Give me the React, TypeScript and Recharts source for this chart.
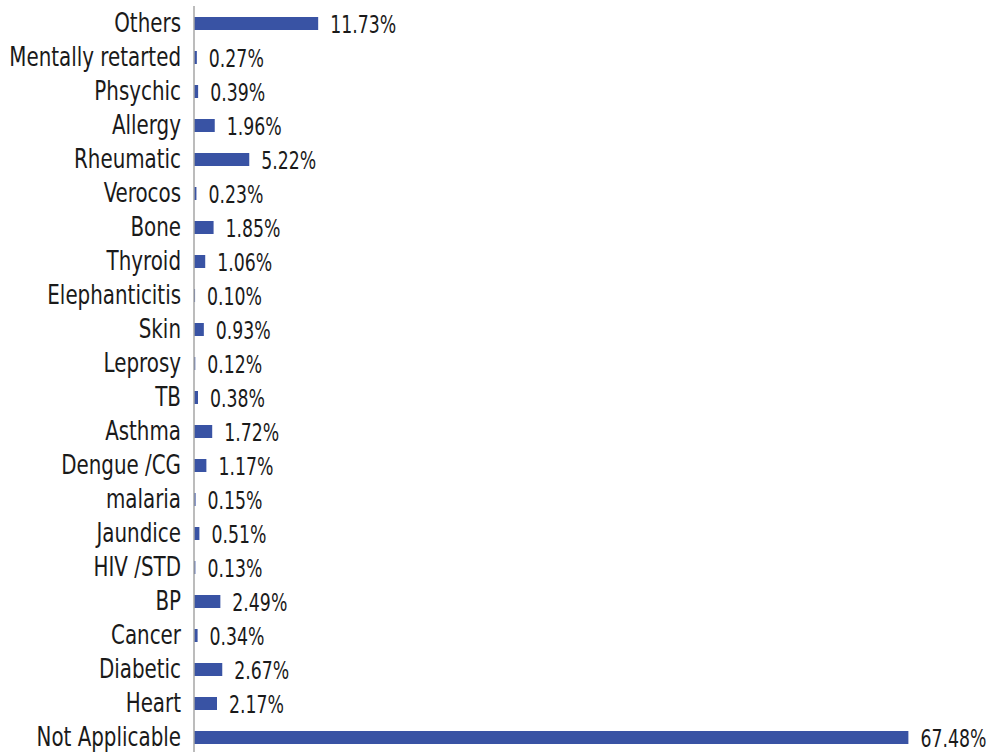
import React from 'react';
import { BarChart, Bar, XAxis, YAxis, LabelList } from 'recharts';

const categories = [
  'Others', 'Mentally retarted', 'Phsychic', 'Allergy', 'Rheumatic', 'Verocos', 'Bone', 'Thyroid',
  'Elephanticitis', 'Skin', 'Leprosy', 'TB', 'Asthma', 'Dengue /CG', 'malaria', 'Jaundice',
  'HIV /STD', 'BP', 'Cancer', 'Diabetic', 'Heart', 'Not Applicable',
];
const values = [
  11.73, 0.27, 0.39, 1.96, 5.22, 0.23, 1.85, 1.06,
  0.10, 0.93, 0.12, 0.38, 1.72, 1.17, 0.15, 0.51,
  0.13, 2.49, 0.34, 2.67, 2.17, 67.48,
];

const data = categories.map((name, i) => ({ name, value: values[i] }));

const FONT = '"DejaVu Sans Condensed", "Liberation Sans Narrow", sans-serif';

const CategoryTick = (props: any) => {
  const { x, y, payload } = props;
  return (
    <g transform={`translate(${x},${y})`}>
      <text
        transform="scale(0.85,1)"
        textAnchor="end"
        dy="0.36em"
        fill="#1a1a1a"
        fontSize={26}
        fontFamily={FONT}
      >
        {payload.value}
      </text>
    </g>
  );
};

const ValueLabel = (props: any) => {
  const { x, y, width, height, value } = props;
  const tx = Number(x) + Number(width) + 12;
  const ty = Number(y) + Number(height) / 2;
  return (
    <g transform={`translate(${tx},${ty})`}>
      <text
        transform="scale(0.77,1)"
        textAnchor="start"
        dy="0.36em"
        fill="#1a1a1a"
        fontSize={25}
        fontFamily={FONT}
      >
        {`${Number(value).toFixed(2)}%`}
      </text>
    </g>
  );
};

export default function App() {
  return (
    <div style={{ position: 'absolute', left: 0, top: 0, background: '#fff' }}>
      <BarChart
        width={993}
        height={754}
        data={data}
        layout="vertical"
        margin={{ top: 6, right: 5, bottom: 0, left: 0 }}
        barCategoryGap={0}
      >
        <XAxis type="number" domain={[0, 75]} hide />
        <YAxis
          type="category"
          dataKey="name"
          width={194}
          tickLine={false}
          tickSize={0}
          tickMargin={13}
          axisLine={{ stroke: '#a6a6a6', strokeWidth: 1.5 }}
          tick={<CategoryTick />}
          interval={0}
        />
        <Bar dataKey="value" fill="#3953a4" barSize={13} isAnimationActive={false}>
          <LabelList dataKey="value" content={<ValueLabel />} />
        </Bar>
      </BarChart>
    </div>
  );
}
